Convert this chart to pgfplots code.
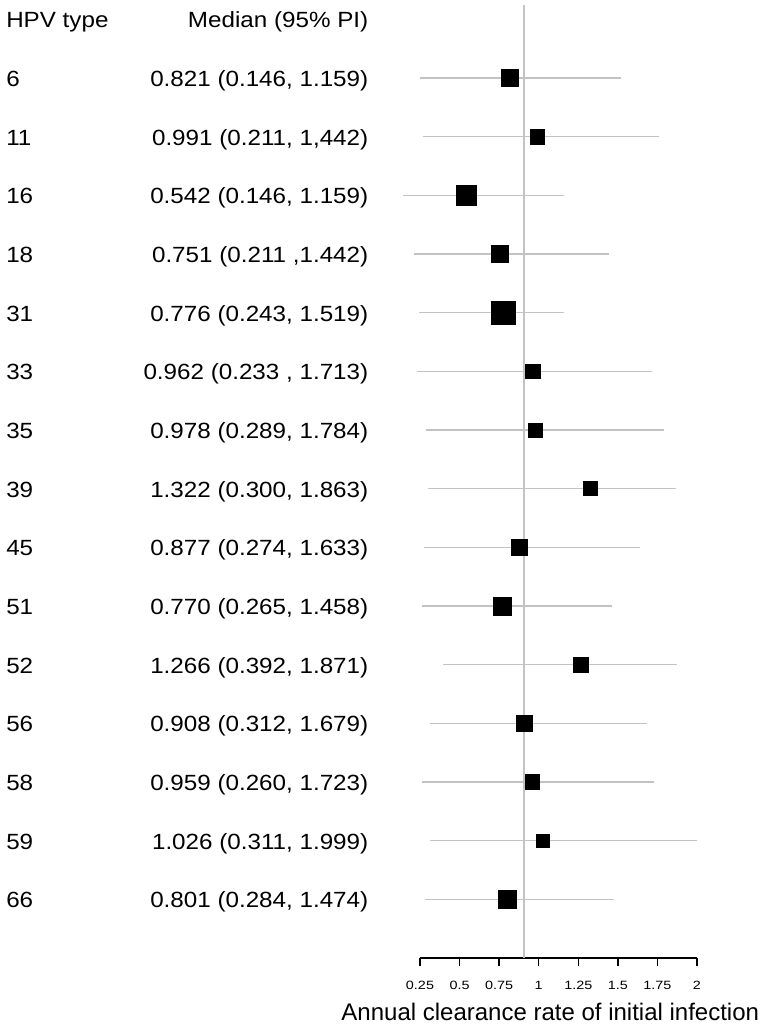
\documentclass[border=0pt]{standalone}
\usepackage{fontspec}
\setmainfont{Liberation Sans}
\usepackage{graphicx}
\usepackage{pgfplots}
\usepackage{pgfplotstable}
\pgfplotsset{compat=1.18}
\definecolor{lgray}{RGB}{195,195,195}
\newcommand\rt[1]{\scalebox{1.1}[1]{\fontsize{16.5}{19}\selectfont #1}}
\newcommand\tk[1]{\scalebox{1.2}[1]{\fontsize{9}{10}\selectfont #1}}
\pgfplotstableread{
row med lo hi ms
1 0.820 0.250 1.522 6.38
2 0.991 0.267 1.762 5.5
3 0.542 0.145 1.162 7.76
4 0.751 0.210 1.446 6.38
5 0.776 0.244 1.162 8.63
6 0.962 0.233 1.716 5.5
7 0.978 0.290 1.789 5.36
8 1.324 0.302 1.865 5.25
9 0.877 0.275 1.638 5.89
10 0.770 0.265 1.461 6.75
11 1.267 0.393 1.873 5.5
12 0.909 0.311 1.682 6.0
13 0.959 0.261 1.726 5.5
14 1.027 0.311 2.000 4.76
15 0.801 0.284 1.477 6.75
}\forest
\begin{document}
\begin{tikzpicture}
\useasboundingbox (0,0) rectangle (574.5pt,-773.25pt);
\begin{axis}[
  at={(315pt,-718.5pt)}, anchor=south west,
  scale only axis, width=207.75pt, height=714.75pt,
  xmin=0.25, xmax=2, ymin=-16, ymax=0.245,
  clip=false,
  axis y line=none, axis x line*=bottom,
  axis line style={line width=1pt, black},
  xtick={0.25,0.5,0.75,1,1.25,1.5,1.75,2},
  xticklabels={\tk{0.25},\tk{0.5},\tk{0.75},\tk{1},\tk{1.25},\tk{1.5},\tk{1.75},\tk{2}},
  tick align=outside, major tick length=6.3pt,
  tick style={line width=1pt, black},
  xticklabel style={anchor=base, yshift=-17pt},
]
\addplot[lgray, line width=0.9pt, forget plot] coordinates {(0.907,0.245) (0.907,-16)};
\addplot[draw=none, mark=none, forget plot,
  error bars/.cd, x dir=both, x explicit, error mark=none,
  error bar style={draw=lgray, line width=0.9pt}]
  table[x=med, y expr=-\thisrow{row},
        x error plus expr=\thisrow{hi}-\thisrow{med},
        x error minus expr=\thisrow{med}-\thisrow{lo}] {\forest};
\addplot[scatter, only marks, mark=square*,
  scatter/use mapped color={draw=none, fill=black},
  visualization depends on={\thisrow{ms} \as \msize},
  scatter/@pre marker code/.append style={/tikz/mark size=\msize pt}]
  table[x=med, y expr=-\thisrow{row}] {\forest};
\tikzset{lt/.style={anchor=base west, yshift=-6.4pt, inner sep=0pt},
         rtx/.style={anchor=base east, yshift=-6.4pt, inner sep=0pt}}
\node[lt] at (axis cs:-2.3655,0) {\rt{HPV type}};
\node[rtx] at (axis cs:-0.0754,0) {\rt{Median (95\% PI)}};
\node[lt] at (axis cs:-2.3655,-1) {\rt{6}};
\node[rtx] at (axis cs:-0.0754,-1) {\rt{0.821 (0.146, 1.159)}};
\node[lt] at (axis cs:-2.3655,-2) {\rt{11}};
\node[rtx] at (axis cs:-0.0754,-2) {\rt{0.991 (0.211, 1,442)}};
\node[lt] at (axis cs:-2.3655,-3) {\rt{16}};
\node[rtx] at (axis cs:-0.0754,-3) {\rt{0.542 (0.146, 1.159)}};
\node[lt] at (axis cs:-2.3655,-4) {\rt{18}};
\node[rtx] at (axis cs:-0.0754,-4) {\rt{0.751 (0.211 ,1.442)}};
\node[lt] at (axis cs:-2.3655,-5) {\rt{31}};
\node[rtx] at (axis cs:-0.0754,-5) {\rt{0.776 (0.243, 1.519)}};
\node[lt] at (axis cs:-2.3655,-6) {\rt{33}};
\node[rtx] at (axis cs:-0.0754,-6) {\rt{0.962 (0.233 , 1.713)}};
\node[lt] at (axis cs:-2.3655,-7) {\rt{35}};
\node[rtx] at (axis cs:-0.0754,-7) {\rt{0.978 (0.289, 1.784)}};
\node[lt] at (axis cs:-2.3655,-8) {\rt{39}};
\node[rtx] at (axis cs:-0.0754,-8) {\rt{1.322 (0.300, 1.863)}};
\node[lt] at (axis cs:-2.3655,-9) {\rt{45}};
\node[rtx] at (axis cs:-0.0754,-9) {\rt{0.877 (0.274, 1.633)}};
\node[lt] at (axis cs:-2.3655,-10) {\rt{51}};
\node[rtx] at (axis cs:-0.0754,-10) {\rt{0.770 (0.265, 1.458)}};
\node[lt] at (axis cs:-2.3655,-11) {\rt{52}};
\node[rtx] at (axis cs:-0.0754,-11) {\rt{1.266 (0.392, 1.871)}};
\node[lt] at (axis cs:-2.3655,-12) {\rt{56}};
\node[rtx] at (axis cs:-0.0754,-12) {\rt{0.908 (0.312, 1.679)}};
\node[lt] at (axis cs:-2.3655,-13) {\rt{58}};
\node[rtx] at (axis cs:-0.0754,-13) {\rt{0.959 (0.260, 1.723)}};
\node[lt] at (axis cs:-2.3655,-14) {\rt{59}};
\node[rtx] at (axis cs:-0.0754,-14) {\rt{1.026 (0.311, 1.999)}};
\node[lt] at (axis cs:-2.3655,-15) {\rt{66}};
\node[rtx] at (axis cs:-0.0754,-15) {\rt{0.801 (0.284, 1.474)}};
\node[anchor=base, inner sep=0pt, yshift=-46.5pt] at (axis cs:1.073,-16) {\fontsize{18}{21}\selectfont Annual clearance rate of initial infection};
\end{axis}
\end{tikzpicture}
\end{document}
